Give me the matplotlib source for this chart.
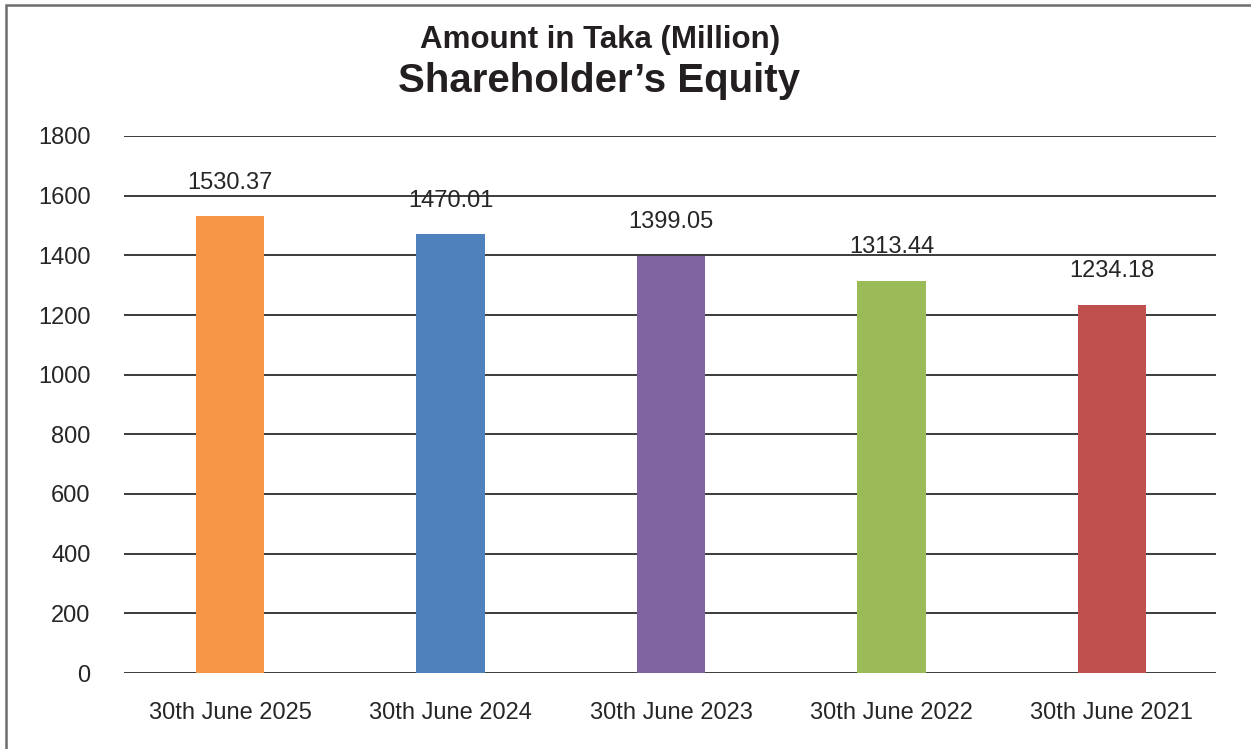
import matplotlib.pyplot as plt
from matplotlib.patches import Rectangle

plt.rcParams['font.family'] = ['Liberation Sans', 'DejaVu Sans']

# data
categories = ['30th June 2025', '30th June 2024', '30th June 2023',
              '30th June 2022', '30th June 2021']
values = [1530.37, 1470.01, 1399.05, 1313.44, 1234.18]
bar_colors = ['#F79646', '#4F81BD', '#8064A2', '#9BBB59', '#C0504D']
yticks = [0, 200, 400, 600, 800, 1000, 1200, 1400, 1600, 1800]

fig = plt.figure(figsize=(12.51, 7.49), dpi=100)
ax = fig.add_axes([124 / 1251, 1 - 673 / 749, (1216 - 124) / 1251, (673 - 136) / 749])

x = range(len(categories))
ax.bar(x, values, width=0.31, color=bar_colors, zorder=3)
for xi, v in zip(x, values):
    ax.annotate(f'{v:.2f}', (xi, v), xytext=(0, 20), textcoords='offset points',
                ha='center', va='baseline', fontsize=17, color='#262626', zorder=4)

ax.set_xlim(-0.482, 4.473)
ax.set_ylim(0, 1800)
ax.set_yticks(yticks)
ax.set_xticks(list(x))
ax.set_xticklabels(categories)
ax.yaxis.grid(True, color='#1a1a1a', linewidth=1.2, zorder=0)
ax.set_axisbelow(True)
for s in ax.spines.values():
    s.set_visible(False)
ax.tick_params(axis='both', length=0, labelsize=17, colors='#262626')
ax.tick_params(axis='y', pad=24)
ax.tick_params(axis='x', pad=21)

# title
fig.text(600 / 1251, 1 - 48 / 749, 'Amount in Taka (Million)', ha='center', va='baseline',
         fontsize=22.5, fontweight='bold', color='#231f20')
fig.text(599 / 1251, 1 - 92 / 749, 'Shareholder\u2019s Equity', ha='center', va='baseline',
         fontsize=29, fontweight='bold', color='#231f20')

# outer frame
fig.patches.append(Rectangle((6 / 1251, -0.1), 1.2, 1.1 - 5 / 749, transform=fig.transFigure,
                             fill=False, edgecolor='#6d6d6d', linewidth=1.8))

fig.savefig('out.png', dpi=100)
